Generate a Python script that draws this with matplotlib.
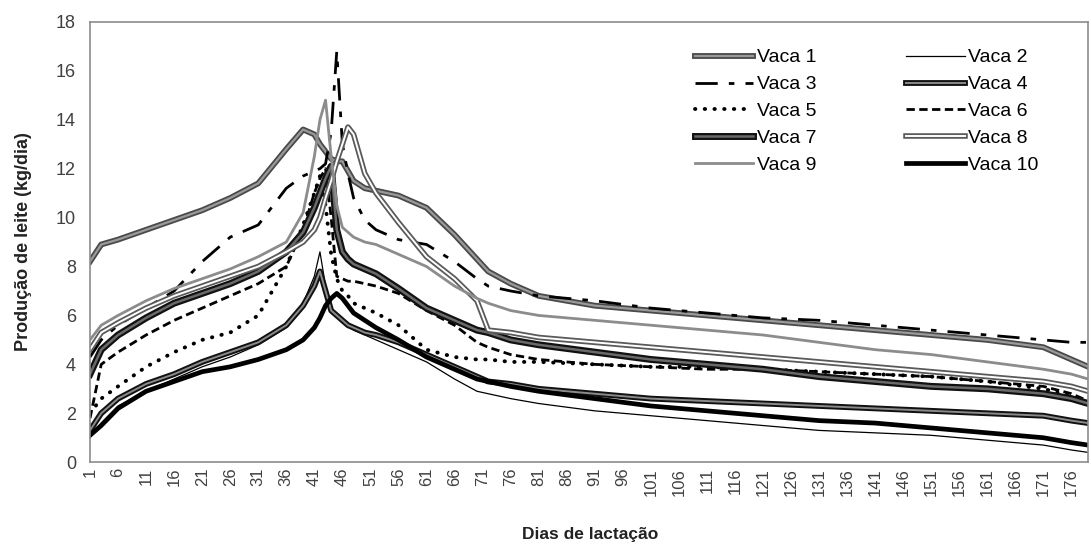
import matplotlib
matplotlib.use('Agg')
import matplotlib.pyplot as plt
import matplotlib.patheffects as pe

plt.rcParams['font.family'] = ['Liberation Sans', 'DejaVu Sans']

# dias em que os valores foram lidos
dias = [1, 3, 6, 11, 16, 21, 26, 31, 36, 39, 41, 42, 43, 44, 45, 46, 47, 48, 50,
        52, 56, 61, 66, 70, 72, 76, 81, 91, 101, 111, 121, 131, 141, 151, 161,
        171, 176, 179]

vaca1 = [8.2, 8.9, 9.1, 9.5, 9.9, 10.3, 10.8, 11.4, 12.8, 13.6, 13.4, 13.0, 12.7,
         12.4, 12.3, 12.3, 11.9, 11.5, 11.2, 11.1, 10.9, 10.4, 9.3, 8.3, 7.8, 7.3,
         6.8, 6.4, 6.2, 6.0, 5.8, 5.6, 5.4, 5.2, 5.0, 4.7, 4.2, 3.9]
vaca2 = [1.0, 1.6, 2.3, 2.9, 3.4, 3.9, 4.3, 4.8, 5.5, 6.5, 7.6, 8.6, 7.2, 6.3,
         6.0, 5.8, 5.6, 5.4, 5.2, 5.0, 4.6, 4.1, 3.4, 2.9, 2.8, 2.6, 2.4, 2.1,
         1.9, 1.7, 1.5, 1.3, 1.2, 1.1, 0.9, 0.7, 0.5, 0.4]
vaca3 = [4.3, 5.0, 5.6, 6.3, 7.0, 8.2, 9.2, 9.7, 11.2, 11.7, 11.9, 12.0, 12.2,
         13.5, 16.8, 13.0, 11.8, 10.8, 9.9, 9.5, 9.1, 8.9, 8.2, 7.5, 7.2, 7.0,
         6.8, 6.6, 6.3, 6.1, 5.9, 5.8, 5.6, 5.4, 5.2, 5.0, 4.9, 4.9]
vaca4 = [1.3, 2.0, 2.6, 3.2, 3.6, 4.1, 4.5, 4.9, 5.6, 6.4, 7.2, 7.8, 7.0, 6.2,
         6.0, 5.8, 5.6, 5.5, 5.3, 5.2, 4.9, 4.4, 3.9, 3.5, 3.3, 3.2, 3.0, 2.8,
         2.6, 2.5, 2.4, 2.3, 2.2, 2.1, 2.0, 1.9, 1.7, 1.6]
vaca5 = [2.0, 2.6, 3.1, 3.9, 4.5, 5.0, 5.3, 6.0, 8.0, 9.7, 11.0, 11.7, 10.5, 8.5,
         7.5, 7.0, 6.8, 6.5, 6.3, 6.1, 5.6, 4.6, 4.3, 4.2, 4.2, 4.1, 4.1, 4.0,
         3.9, 3.9, 3.8, 3.7, 3.6, 3.5, 3.3, 3.0, 2.7, 2.4]
vaca6 = [1.8, 4.0, 4.5, 5.2, 5.8, 6.3, 6.8, 7.3, 8.0, 9.5, 11.0, 11.6, 12.0, 10.0,
         7.6, 7.5, 7.4, 7.4, 7.3, 7.2, 6.9, 6.2, 5.6, 4.9, 4.7, 4.4, 4.2, 4.0,
         3.9, 3.8, 3.8, 3.7, 3.6, 3.5, 3.3, 3.1, 2.8, 2.5]
vaca7 = [3.6, 4.6, 5.2, 5.9, 6.5, 6.9, 7.3, 7.8, 8.6, 9.4, 10.4, 11.0, 11.6, 12.1,
         9.5, 8.6, 8.3, 8.1, 7.9, 7.7, 7.1, 6.3, 5.8, 5.4, 5.3, 5.0, 4.8, 4.5,
         4.2, 4.0, 3.8, 3.5, 3.3, 3.1, 3.0, 2.8, 2.6, 2.4]
vaca8 = [4.6, 5.3, 5.7, 6.3, 6.8, 7.2, 7.6, 8.0, 8.6, 9.0, 9.5, 10.0, 10.8, 11.5,
         12.3, 13.0, 13.7, 13.4, 11.8, 11.0, 9.8, 8.4, 7.5, 6.6, 5.4, 5.3, 5.1,
         4.9, 4.7, 4.5, 4.3, 4.1, 3.9, 3.7, 3.5, 3.3, 3.1, 2.9]
vaca9 = [5.0, 5.6, 6.0, 6.6, 7.1, 7.5, 7.9, 8.4, 9.0, 10.2, 12.5, 14.0, 14.8, 12.5,
         10.5, 9.6, 9.4, 9.2, 9.0, 8.9, 8.5, 8.0, 7.2, 6.7, 6.5, 6.2, 6.0, 5.8,
         5.6, 5.4, 5.2, 4.9, 4.6, 4.4, 4.1, 3.8, 3.6, 3.4]
vaca10 = [1.1, 1.5, 2.2, 2.9, 3.3, 3.7, 3.9, 4.2, 4.6, 5.0, 5.5, 5.9, 6.4, 6.7,
          6.9, 6.7, 6.4, 6.1, 5.8, 5.5, 5.0, 4.3, 3.8, 3.4, 3.3, 3.1, 2.9, 2.6,
          2.3, 2.1, 1.9, 1.7, 1.6, 1.4, 1.2, 1.0, 0.8, 0.7]

nomes = ['Vaca 1', 'Vaca 2', 'Vaca 3', 'Vaca 4', 'Vaca 5',
         'Vaca 6', 'Vaca 7', 'Vaca 8', 'Vaca 9', 'Vaca 10']
series = [vaca1, vaca2, vaca3, vaca4, vaca5, vaca6, vaca7, vaca8, vaca9, vaca10]


def dupla(largura_fora, cor_fora):
    # linha "dupla" do Excel: contorno escuro com miolo mais claro
    return [pe.Stroke(linewidth=largura_fora, foreground=cor_fora), pe.Normal()]


estilos = [
    dict(color='#9a9a9a', lw=1.6, path_effects=dupla(4.2, '#4a4a4a')),
    dict(color='black', lw=0.9),
    dict(color='black', lw=2.0, dashes=(8, 4, 2, 4)),
    dict(color='#8a8a8a', lw=1.4, path_effects=dupla(4.2, '#111111')),
    dict(color='black', lw=2.8, dashes=(0.1, 2.4), dash_capstyle='round'),
    dict(color='black', lw=2.0, dashes=(3, 1.6)),
    dict(color='#6a6a6a', lw=1.8, path_effects=dupla(5.0, '#111111')),
    dict(color='white', lw=1.4, path_effects=dupla(4.0, '#5a5a5a')),
    dict(color='#8c8c8c', lw=2.0),
    dict(color='black', lw=3.4),
]

fig = plt.figure(figsize=(10.91, 5.47), dpi=100)
ax = fig.add_axes([0.0825, 0.155, 0.915, 0.805])

linhas = []
for nome, valores, est in zip(nomes, series, estilos):
    l, = ax.plot(dias, valores, label=nome, solid_joinstyle='round', **est)
    linhas.append(l)

ax.set_xlim(1, 179)
ax.set_ylim(0, 18)
ax.set_yticks(range(0, 19, 2))
ax.set_xticks(range(1, 177, 5))
ax.tick_params(axis='x', labelrotation=90, length=0, labelsize=12, colors='#404040', pad=4)
ax.tick_params(axis='y', length=0, labelsize=13, colors='#404040', pad=10)
for s in ax.spines.values():
    s.set_color('#8c8c8c')
    s.set_linewidth(1.2)

ax.set_ylabel('Produção de leite (kg/dia)', fontsize=13, fontweight='bold',
              color='#222222', labelpad=17)
fig.text(0.541, 0.022, 'Dias de lactação', fontsize=12.5, fontweight='bold',
         color='#222222', ha='center', va='center')

# legenda preenchida por linha (como no Excel)
ordem = [0, 2, 4, 6, 8, 1, 3, 5, 7, 9]
ax.legend([linhas[i] for i in ordem], [nomes[i] for i in ordem],
          loc='upper left', bbox_to_anchor=(0.630, 0.925),
          bbox_transform=fig.transFigure, ncol=2, frameon=False,
          fontsize=14, handlelength=3.0, handletextpad=0.2,
          columnspacing=4.6, labelspacing=0.48, borderaxespad=0)

fig.savefig('out.png', dpi=100, facecolor='white')
